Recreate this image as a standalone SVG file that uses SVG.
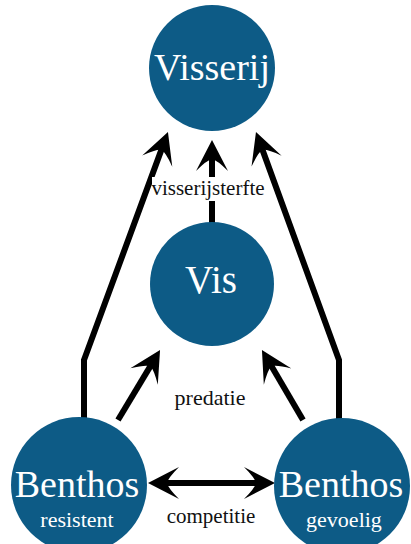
<svg xmlns="http://www.w3.org/2000/svg" width="411" height="544" viewBox="0 0 411 544">
<defs>
<marker id="ah" viewBox="-34 -18 36 36" markerWidth="36" markerHeight="36" refX="-10" refY="0" orient="auto-start-reverse" markerUnits="userSpaceOnUse">
<path d="M0,0 L-31,-16 Q-20,-5 -19,0 Q-20,5 -31,16 Z" fill="#000"/>
</marker>
</defs>
<rect width="411" height="544" fill="#fff"/>
<g id="connectors" fill="none" stroke="#000" stroke-width="6">
<polyline points="84,420 84,360 164.5,141.4" marker-end="url(#ah)"/>
<polyline points="339,420 339,360 259.4,141.4" marker-end="url(#ah)"/>
<line x1="212" y1="225" x2="212" y2="150" marker-end="url(#ah)"/>
<line x1="118" y1="420" x2="154.9" y2="358.6" marker-end="url(#ah)"/>
<line x1="303" y1="420" x2="267" y2="358.6" marker-end="url(#ah)"/>
<line x1="158" y1="483" x2="265" y2="483" marker-start="url(#ah)" marker-end="url(#ah)"/>
<rect x="152" y="177" width="113" height="24" fill="#fff" stroke="none"/>
<text x="208" y="195" font-size="21" font-family="Liberation Serif" fill="#111" stroke="none" text-anchor="middle">visserijsterfte</text>
<text x="210" y="405" font-size="22" font-family="Liberation Serif" fill="#111" stroke="none" text-anchor="middle">predatie</text>
<text x="211" y="523" font-size="21" font-family="Liberation Serif" fill="#111" stroke="none" text-anchor="middle">competitie</text>
</g>
<g id="visserij">
<circle cx="212" cy="68" r="63" fill="#0d5b86"/>
<text x="212" y="80" font-size="38" font-family="Liberation Serif" fill="#fff" text-anchor="middle">Visserij</text>
</g>
<g id="vis">
<circle cx="212" cy="284" r="62" fill="#0d5b86"/>
<text x="211" y="293" font-size="39" font-family="Liberation Serif" fill="#fff" text-anchor="middle">Vis</text>
</g>
<g id="benthos-resistent">
<circle cx="79" cy="485" r="68" fill="#0d5b86"/>
<text x="77" y="497" font-size="38" font-family="Liberation Serif" fill="#fff" text-anchor="middle">Benthos</text>
<text x="77" y="527" font-size="22" font-family="Liberation Serif" fill="#fff" text-anchor="middle">resistent</text>
</g>
<g id="benthos-gevoelig">
<circle cx="342" cy="486" r="68" fill="#0d5b86"/>
<text x="341" y="497" font-size="38" font-family="Liberation Serif" fill="#fff" text-anchor="middle">Benthos</text>
<text x="344" y="527" font-size="22" font-family="Liberation Serif" fill="#fff" text-anchor="middle">gevoelig</text>
</g>
</svg>
